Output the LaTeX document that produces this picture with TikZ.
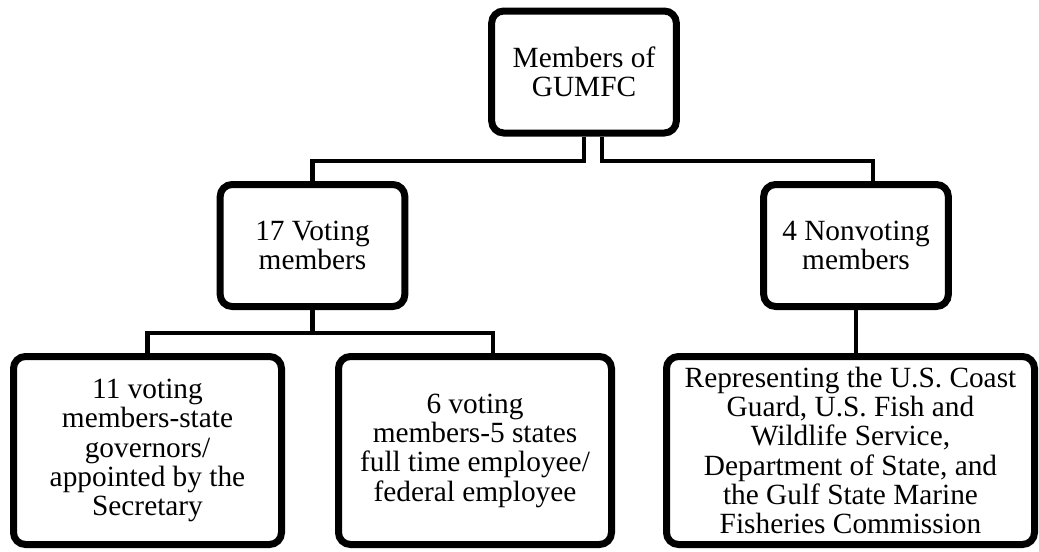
\documentclass[tikz,border=0pt]{standalone}
\usepackage{fontspec}
\setmainfont{Liberation Serif}
\usetikzlibrary{shadows}

\begin{document}
\begin{tikzpicture}[x=0.75pt, y=-0.75pt,
            orgbox/.style = {shape=rectangle, rounded corners=9pt,
                             draw, line width=5.25pt, fill=white,
                             align=center, inner sep=0pt,
                             font=\fontsize{22}{22}\selectfont,
                             drop shadow={opacity=0.25, shadow xshift=1.5pt, shadow yshift=-1.5pt}},
            smallbox/.style = {orgbox, minimum width=138.5pt, minimum height=91.5pt},
            bigbox/.style = {orgbox, minimum height=141pt},
            link/.style = {line width=3.6pt}]
            \useasboundingbox (0,0) rectangle (1039,551);
            \node[smallbox] (members) at (584,72) {Members of\\GUMFC};
            \node[smallbox] (voting) at (312.5,245.5) {17 Voting\\members};
            \node[smallbox] (nonvoting) at (856,245.5) {4 Nonvoting\\members};
            \node[bigbox, minimum width=201pt] (statemembers) at (147.5,450.5)
                    {11 voting\\members-state\\governors/\\appointed by the\\Secretary};
            \node[bigbox, minimum width=204.75pt] (federalmembers) at (475,450.5)
                    {6 voting\\members-5 states\\full time employee/\\federal employee};
            \node[bigbox, minimum width=276pt] (agencies) at (850.5,450.5)
                    {Representing the U.S. Coast\\Guard, U.S. Fish and\\Wildlife Service,\\Department of State, and\\the Gulf State Marine\\Fisheries Commission};
            \coordinate (topbar) at (0,161);
            \coordinate (votebar) at (0,333);
            \coordinate (mright) at ([xshift=13.5pt]members.south);
            \draw[link] (members.south) -- (members.south |- topbar) -| (voting.north);
            \draw[link] (mright) -- (mright |- topbar) -| ([xshift=12.75pt]nonvoting.north);
            \draw[link] (voting.south) -- (voting.south |- votebar) -| (statemembers.north);
            \draw[link] (voting.south) -- (voting.south |- votebar) -| ([xshift=13.5pt]federalmembers.north);
            \draw[link] (nonvoting.south) -- (nonvoting.south |- agencies.north);
        \end{tikzpicture}
\end{document}
